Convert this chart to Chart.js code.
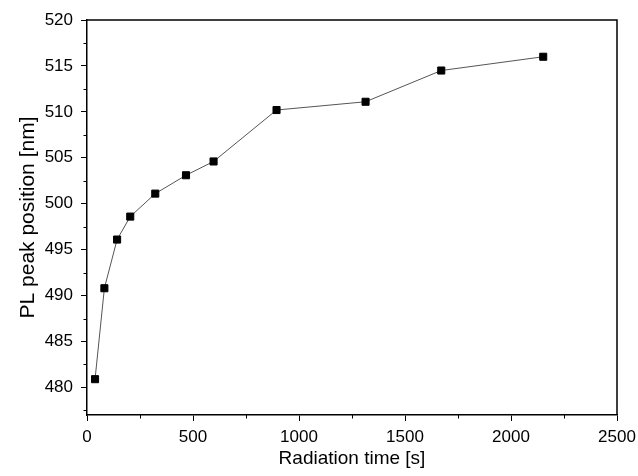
<!DOCTYPE html>
<html>
<head>
<meta charset="utf-8">
<script src="https://cdn.jsdelivr.net/npm/chart.js@4.4.1/dist/chart.umd.min.js"></script>
<style>
html, body { margin: 0; padding: 0; background: #fff; }
#wrap { width: 638px; height: 476px; }
</style>
</head>
<body>
<div id="wrap"><canvas id="pl-chart" width="638" height="476"></canvas></div>
<script>
// radiation time [s] and PL peak position [nm]
var times = [38, 82, 142, 204, 322, 467, 597, 894, 1314, 1671, 2152]
var peaks = [480.9, 490.8, 496.1, 498.6, 501.1, 503.1, 504.6, 510.2, 511.1, 514.5, 516.0]

var xTicks = [0, 500, 1000, 1500, 2000, 2500]
var xMinor = [250, 750, 1250, 1750, 2250]
var yTicks = [480, 485, 490, 495, 500, 505, 510, 515, 520]
var yMinor = [477.5, 482.5, 487.5, 492.5, 497.5, 502.5, 507.5, 512.5, 517.5]

Chart.defaults.font.family = "'Liberation Sans', Arial, sans-serif"
Chart.defaults.color = '#000'

var points = times.map(function (t, i) { return { x: t, y: peaks[i] } })
var plain = function (v) { return String(v) }

// box on top/right plus the short minor ticks
var frame = {
  id: 'frame',
  afterDraw: function (chart) {
    var ctx = chart.ctx, a = chart.chartArea
    var xs = chart.scales.x, ys = chart.scales.y
    ctx.save()
    ctx.strokeStyle = '#000'
    ctx.lineWidth = 1.5
    ctx.beginPath()
    ctx.moveTo(a.left, a.top)
    ctx.lineTo(a.right, a.top)
    ctx.lineTo(a.right, a.bottom)
    ctx.stroke()
    ctx.lineWidth = 1
    ctx.beginPath()
    xMinor.forEach(function (v) {
      var px = Math.round(xs.getPixelForValue(v)) + 0.5
      ctx.moveTo(px, a.bottom)
      ctx.lineTo(px, a.bottom + 3.5)
    })
    yMinor.forEach(function (v) {
      var py = Math.round(ys.getPixelForValue(v)) + 0.5
      ctx.moveTo(a.left, py)
      ctx.lineTo(a.left - 3.5, py)
    })
    ctx.stroke()
    ctx.restore()
  }
}

new Chart(document.getElementById('pl-chart'), {
  type: 'scatter',
  data: {
    datasets: [{
      data: points,
      showLine: true,
      borderColor: '#555',
      borderWidth: 1,
      pointStyle: 'rect',
      pointRadius: 5,
      pointHoverRadius: 5,
      pointBackgroundColor: '#000',
      pointBorderColor: '#000',
      pointBorderWidth: 1
    }]
  },
  options: {
    responsive: false,
    animation: false,
    events: [],
    layout: { padding: { top: 20, right: 21, left: 0, bottom: 0 } },
    plugins: { legend: { display: false }, tooltip: { enabled: false } },
    scales: {
      x: {
        type: 'linear',
        min: 0,
        max: 2500,
        afterBuildTicks: function (s) { s.ticks = xTicks.map(function (v) { return { value: v } }) },
        afterFit: function (s) { s.height = 61; s.paddingRight = 0 },
        ticks: { font: { size: 17 }, padding: 6, maxRotation: 0, callback: plain },
        grid: { drawOnChartArea: false, drawTicks: true, tickLength: 6, tickColor: '#000', tickWidth: 1 },
        border: { display: true, color: '#000', width: 1.5 },
        title: { display: true, text: 'Radiation time [s]', font: { size: 19 }, padding: { top: 0, bottom: 6 } }
      },
      y: {
        type: 'linear',
        min: 477,
        max: 520,
        afterBuildTicks: function (s) { s.ticks = yTicks.map(function (v) { return { value: v } }) },
        afterFit: function (s) { s.width = 87 },
        ticks: { font: { size: 17 }, padding: 8, callback: plain },
        grid: { drawOnChartArea: false, drawTicks: true, tickLength: 6, tickColor: '#000', tickWidth: 1 },
        border: { display: true, color: '#000', width: 1.5 },
        title: { display: true, text: 'PL peak position [nm]', font: { size: 21 }, padding: { top: 16, bottom: 0 } }
      }
    }
  },
  plugins: [frame]
})
</script>
</body>
</html>
